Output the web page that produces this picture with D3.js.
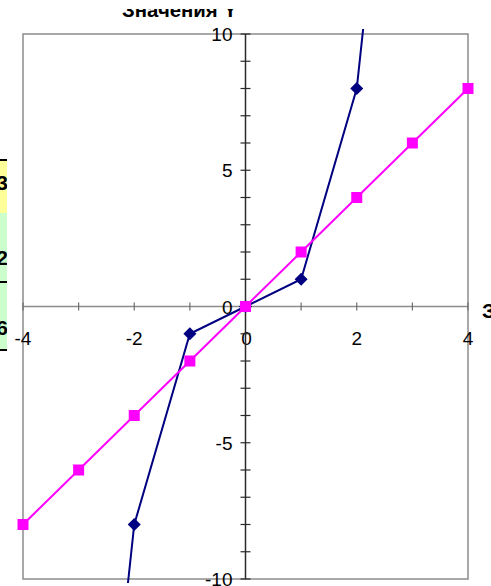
<!DOCTYPE html>
<html>
<head>
<meta charset="utf-8">
<script src="https://cdn.jsdelivr.net/npm/d3@7"></script>
<style>
  html, body { margin: 0; padding: 0; background: #fff; }
  svg { display: block; }
</style>
</head>
<body>
<svg id="chart" width="491" height="586"></svg>
<script>
// ---- data ----
const xValues = [-4, -3, -2, -1, 0, 1, 2, 3, 4];
const cubeValues = [-64, -27, -8, -1, 0, 1, 8, 27, 64];
const doubleValues = [-8, -6, -4, -2, 0, 2, 4, 6, 8];
const xTickValues = [-4, -3, -2, -1, 0, 1, 2, 3, 4];
const xTickLabels = [-4, -2, 0, 2, 4];
const yTickValues = d3.range(-10, 11, 1);
const yTickLabels = [-10, -5, 0, 5, 10];
const yTitle = "Значения Y";
const xTitle = "Значения X";
const sideCellTexts = ["3", "2", "6"];

// ---- layout ----
const svg = d3.select("#chart");
const W = 491, H = 586;
const plot = { left: 23, right: 468, top: 34, bottom: 579 };
const font = "'Liberation Sans', Arial, sans-serif";

const x = d3.scaleLinear().domain([-4, 4]).range([plot.left, plot.right]);
const y = d3.scaleLinear().domain([-10, 10]).range([plot.bottom, plot.top]);

// spreadsheet cells peeking at the left
const strips = [
  { y0: 160, y1: 213, fill: "#FFFF99" },
  { y0: 213, y1: 282, fill: "#CCFFCC" },
  { y0: 282, y1: 350, fill: "#CCFFCC" }
];
svg.selectAll("rect.strip").data(strips).enter().append("rect")
  .attr("x", 0).attr("y", d => d.y0).attr("width", 7).attr("height", d => d.y1 - d.y0)
  .attr("fill", d => d.fill);
svg.selectAll("line.stripline").data([160, 282, 350]).enter().append("line")
  .attr("x1", 0).attr("x2", 7).attr("y1", d => d).attr("y2", d => d)
  .attr("stroke", "#000").attr("stroke-width", 2);
const defs = svg.append("defs");
defs.append("clipPath").attr("id", "leftclip").append("rect")
  .attr("x", 0).attr("y", 0).attr("width", 7).attr("height", H);
svg.append("g").attr("clip-path", "url(#leftclip)")
  .selectAll("text").data(sideCellTexts).enter().append("text")
  .attr("x", 8).attr("y", (d, i) => [190, 265, 335][i])
  .attr("text-anchor", "end")
  .attr("font-family", font).attr("font-size", 21).attr("font-weight", "bold")
  .text(d => d);

// plot border
svg.append("rect")
  .attr("x", plot.left).attr("y", plot.top)
  .attr("width", plot.right - plot.left).attr("height", plot.bottom - plot.top)
  .attr("fill", "#fff").attr("stroke", "#8c8c8c").attr("stroke-width", 1.5);

// x axis (crossing at y=0)
const xAxisG = svg.append("g").attr("transform", `translate(0,${y(0)})`);
xAxisG.append("line").attr("x1", plot.left).attr("x2", plot.right)
  .attr("stroke", "#8c8c8c").attr("stroke-width", 1.5);
xAxisG.selectAll("line.tick").data(xTickValues).enter().append("line")
  .attr("x1", d => x(d)).attr("x2", d => x(d)).attr("y1", -4).attr("y2", 4)
  .attr("stroke", "#6e6e6e").attr("stroke-width", 1.2);
xAxisG.selectAll("text").data(xTickLabels).enter().append("text")
  .attr("x", d => x(d) + (d === 0 ? 1 : 0)).attr("y", 38)
  .attr("text-anchor", "middle")
  .attr("font-family", font).attr("font-size", 19).attr("fill", "#000")
  .text(d => d);

// y axis (crossing at x=0)
const yAxisG = svg.append("g").attr("transform", `translate(${x(0)},0)`);
yAxisG.append("line").attr("y1", plot.top).attr("y2", plot.bottom)
  .attr("stroke", "#2a2a2a").attr("stroke-width", 1.5);
yAxisG.selectAll("line.tick").data(yTickValues).enter().append("line")
  .attr("y1", d => y(d)).attr("y2", d => y(d)).attr("x1", -5).attr("x2", 5)
  .attr("stroke", "#2a2a2a").attr("stroke-width", 1.2);
yAxisG.selectAll("text").data(yTickLabels).enter().append("text")
  .attr("x", -13).attr("y", d => y(d) + 7)
  .attr("text-anchor", "end")
  .attr("font-family", font).attr("font-size", 19).attr("fill", "#000")
  .text(d => d);

// series lines, clipped slightly beyond the plot
defs.append("clipPath").attr("id", "lineclip").append("rect")
  .attr("x", plot.left).attr("y", 29)
  .attr("width", plot.right - plot.left).attr("height", 583 - 29);

const line = d3.line().x(d => x(d[0])).y(d => y(d[1]));
const series = [
  { values: cubeValues, color: "#000080", marker: "diamond" },
  { values: doubleValues, color: "#FF00FF", marker: "square" }
];
series.forEach(s => {
  const pts = xValues.map((v, i) => [v, s.values[i]]);
  svg.append("path").attr("clip-path", "url(#lineclip)")
    .attr("d", line(pts)).attr("fill", "none")
    .attr("stroke", s.color).attr("stroke-width", 2);
  const inRange = pts.filter(p => p[1] >= -10 && p[1] <= 10);
  if (s.marker === "square") {
    svg.selectAll(null).data(inRange).enter().append("rect")
      .attr("x", d => x(d[0]) - 5.5).attr("y", d => y(d[1]) - 5.5)
      .attr("width", 11).attr("height", 11).attr("fill", s.color);
  } else {
    svg.selectAll(null).data(inRange).enter().append("path")
      .attr("transform", d => `translate(${x(d[0])},${y(d[1])})`)
      .attr("d", "M0,-6.5L6.5,0L0,6.5L-6.5,0Z").attr("fill", s.color);
  }
});

// axis titles (partially cut off, as in the reference)
defs.append("clipPath").attr("id", "topclip").append("rect")
  .attr("x", 0).attr("y", 9).attr("width", W).attr("height", H);
svg.append("text").attr("clip-path", "url(#topclip)")
  .attr("x", 122).attr("y", 17)
  .attr("font-family", font).attr("font-size", 20).attr("font-weight", "bold")
  .attr("textLength", 115).attr("lengthAdjust", "spacingAndGlyphs")
  .text(yTitle);
svg.append("text")
  .attr("x", 482).attr("y", 318)
  .attr("font-family", font).attr("font-size", 21).attr("font-weight", "bold")
  .text(xTitle);
</script>
</body>
</html>
